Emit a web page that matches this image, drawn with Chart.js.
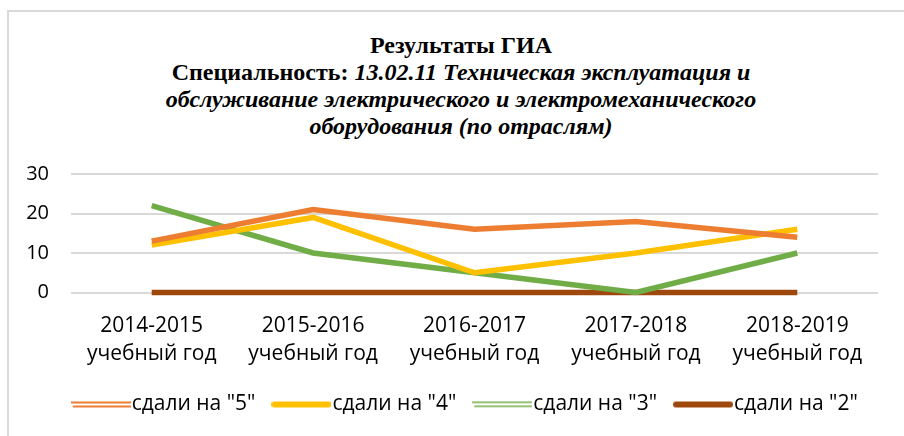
<!DOCTYPE html>
<html>
<head>
<meta charset="utf-8">
<script src="https://cdn.jsdelivr.net/npm/chart.js@4"></script>
<style>
  html, body { margin: 0; padding: 0; background: #fff; overflow: hidden; }
  #wrap { position: relative; width: 904px; height: 436px; overflow: hidden; }
  #frame { position: absolute; left: 7px; top: 10px; width: 900px; height: 440px;
           border-top: 2px solid #d9d9d9; border-left: 2px solid #d9d9d9; }
  #title { position: absolute; left: 0; top: 32px; width: 922px; text-align: center;
           font-family: "Liberation Serif", "Times New Roman", serif; font-weight: bold;
           font-size: 24px; line-height: 27px; color: #000; }
  #title i { font-style: italic; }
  canvas { position: absolute; left: 0; top: 0; }
</style>
</head>
<body>
<div id="wrap">
  <div id="frame"></div>
  <div id="title">
    Результаты ГИА<br>
    Специальность: <i>13.02.11 Техническая эксплуатация и</i><br>
    <i>обслуживание электрического и электромеханического</i><br>
    <i>оборудования (по отраслям)</i>
  </div>
  <canvas id="chart" width="904" height="436"></canvas>
</div>
<script>
// Data
const years = [
  ["2014-2015", "учебный год"],
  ["2015-2016", "учебный год"],
  ["2016-2017", "учебный год"],
  ["2017-2018", "учебный год"],
  ["2018-2019", "учебный год"]
];
const seriesNames = ['сдали на "5"', 'сдали на "4"', 'сдали на "3"', 'сдали на "2"'];
const grade5 = [13, 21, 16, 18, 14];
const grade4 = [12, 19, 5, 10, 16];
const grade3 = [22, 10, 5, 0, 10];
const grade2 = [0, 0, 0, 0, 0];
const seriesColors = ["#ED7D31", "#FFC000", "#70AD47", "#9E480E"];

const axisFont = "'Open Sans', 'Liberation Sans', sans-serif";

// legend swatches: Excel draws "5" and "3" as hollow double strokes
function swatch(color, hollow, thick) {
  var c = document.createElement("canvas");
  c.width = 60;
  c.height = 8;
  var g = c.getContext("2d");
  g.fillStyle = color;
  g.strokeStyle = color;
  if (hollow) {
    g.fillRect(0, 1, 60, thick);
    g.fillRect(2, 5, 58, thick);
  } else {
    g.lineWidth = 6;
    g.lineCap = "round";
    g.beginPath();
    g.moveTo(3, 4);
    g.lineTo(57, 4);
    g.stroke();
  }
  return c;
}

function makeSet(label, values, color, legendMark) {
  return {
    label: label,
    data: values,
    borderColor: color,
    backgroundColor: color,
    borderWidth: 5.5,
    pointRadius: 0,
    pointHoverRadius: 0,
    pointStyle: legendMark,
    tension: 0,
    clip: false
  };
}

var datasets = [
  makeSet(seriesNames[0], grade5, seriesColors[0], swatch(seriesColors[0], true, 2)),
  makeSet(seriesNames[1], grade4, seriesColors[1], swatch(seriesColors[1], false)),
  makeSet(seriesNames[2], grade3, seriesColors[2], swatch(seriesColors[2], true, 1.5)),
  makeSet(seriesNames[3], grade2, seriesColors[3], swatch(seriesColors[3], false))
];

// the legend row in the picture is centred a bit right of the canvas middle
const shiftLegend = {
  id: "shiftLegend",
  afterLayout(chart) {
    var lg = chart.legend;
    lg.maxWidth = 860;
    lg.left = 39;
    lg.right = 899;
    lg.fit();
  }
};

var ctx = document.getElementById("chart");
new Chart(ctx, {
  type: "line",
  data: { labels: years, datasets: datasets },
  plugins: [shiftLegend],
  options: {
    responsive: false,
    animation: false,
    layout: { padding: { top: 174, right: 26, left: 0, bottom: 11 } },
    plugins: {
      title: { display: false },
      tooltip: { enabled: false },
      legend: {
        display: true,
        position: "bottom",
        labels: {
          usePointStyle: true,
          pointStyleWidth: 41,
          padding: 25.5,
          color: "#000",
          font: { family: axisFont, size: 21 }
        }
      }
    },
    scales: {
      x: {
        offset: true,
        afterFit: (scale) => { scale.height = 76; },
        grid: { display: false },
        border: { display: false },
        ticks: {
          color: "#000",
          padding: 12,
          maxRotation: 0,
          font: { family: axisFont, size: 21, lineHeight: 1.333 }
        }
      },
      y: {
        min: 0,
        max: 30,
        afterFit: (scale) => { scale.width = 71; },
        grid: { color: "#d9d9d9", lineWidth: 2, drawTicks: false },
        border: { display: false },
        ticks: {
          stepSize: 10,
          color: "#000",
          padding: 22,
          font: { family: axisFont, size: 20 }
        }
      }
    }
  }
});
</script>
</body>
</html>
